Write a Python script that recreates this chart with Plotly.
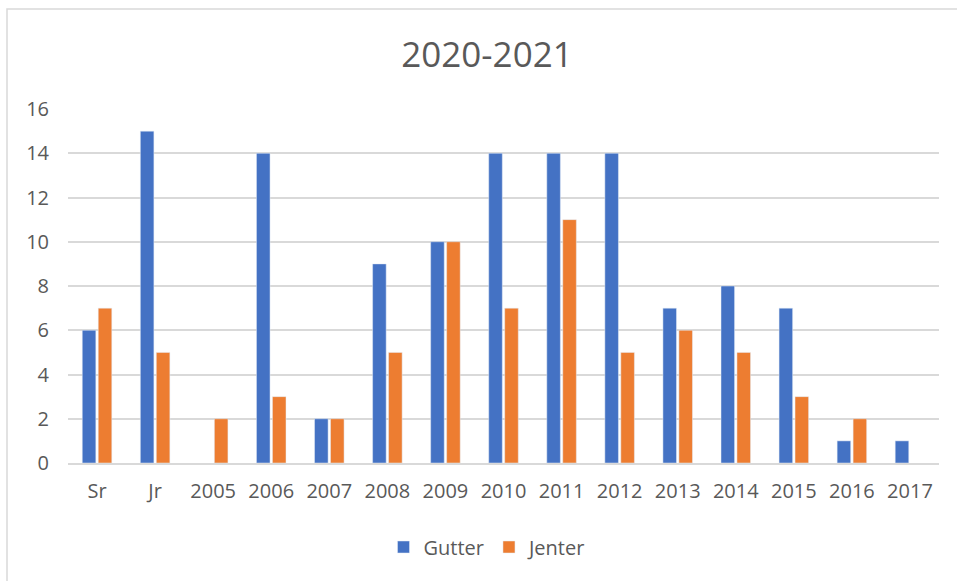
import plotly.graph_objects as go

categories = ["Sr", "Jr", "2005", "2006", "2007", "2008", "2009", "2010", "2011", "2012", "2013", "2014", "2015", "2016", "2017"]
gutter = [6, 15, None, 14, 2, 9, 10, 14, 14, 14, 7, 8, 7, 1, 1]
jenter = [7, 5, 2, 3, 2, 5, 10, 7, 11, 5, 6, 5, 3, 2, None]
y_ticks = [0, 2, 4, 6, 8, 10, 12, 14, 16]

FONT = "Open Sans, Liberation Sans, sans-serif"
TXT = "#595959"

fig = go.Figure()
fig.add_trace(go.Bar(name="Gutter", x=categories, y=gutter, marker_color="#4472C4"))
fig.add_trace(go.Bar(name="Jenter", x=categories, y=jenter, marker_color="#ED7D31"))

fig.update_layout(
    width=957, height=581,
    paper_bgcolor="white", plot_bgcolor="white",
    margin=dict(l=68, r=18, t=109, b=118),
    barmode="group", bargap=0.45, bargroupgap=0.15,
    title=dict(text="2020-2021", x=487/957, xanchor="center", y=1 - 55/581, yanchor="middle",
               font=dict(family=FONT, size=35, color=TXT)),
    font=dict(family=FONT, size=20, color=TXT),
    legend=dict(orientation="h", x=0.5 - 16/871, xanchor="center", y=-(547-463)/354, yanchor="middle",
                font=dict(size=20, color=TXT), itemwidth=30, traceorder="normal"),
    xaxis=dict(showgrid=False, showline=True, linecolor="#D9D9D9", linewidth=1.5,
               ticks="", tickfont=dict(size=20, color=TXT), fixedrange=True,
               ticklabelstandoff=9),
    yaxis=dict(range=[0, 16], tickvals=y_ticks, showgrid=True, gridcolor="#D9D9D9", gridwidth=1.5,
               zeroline=False, ticks="", tickfont=dict(size=20, color=TXT),
               ticklabelstandoff=18, fixedrange=True),
    shapes=[dict(type="rect", xref="paper", yref="paper",
                 x0=-(68-7)/871, x1=1 + 40/871, y0=-(581)/354, y1=1 + (109-9)/354,
                 line=dict(color="#D9D9D9", width=1.5), fillcolor="rgba(0,0,0,0)", layer="below")],
)

fig.write_html("out.html", config={"displayModeBar": False},
               post_script="document.body.style.margin='0';")
